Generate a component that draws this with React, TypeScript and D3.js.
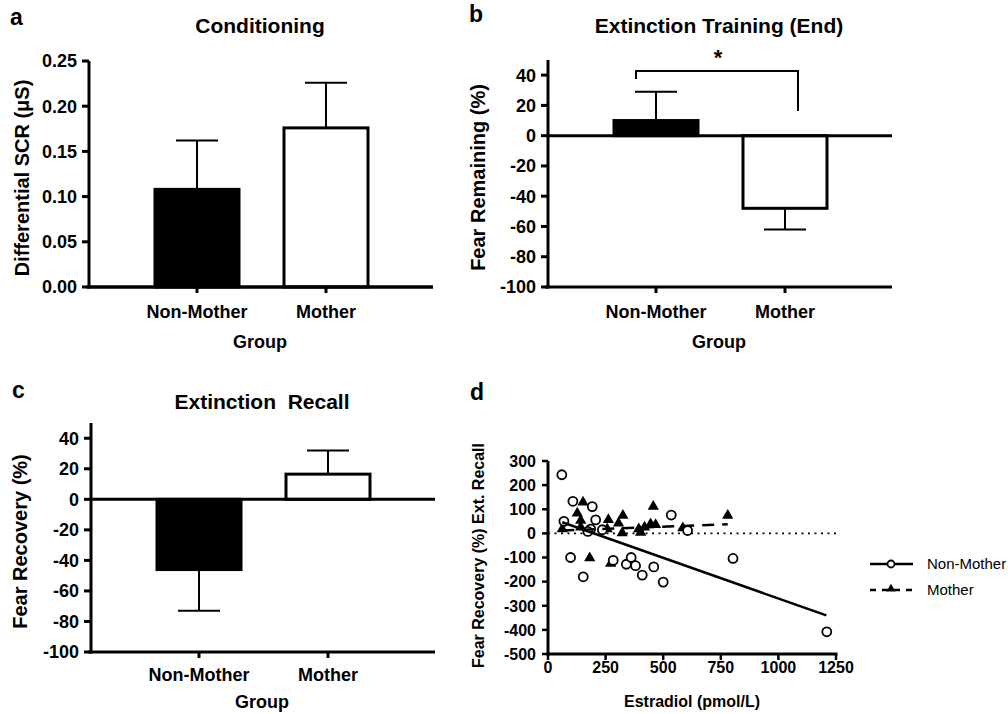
import * as d3 from 'd3'

// ---- data ----
const groups = ["Non-Mother", "Mother"];

// a: conditioning (differential SCR, µS)
const condMean = [0.108, 0.176];
const condErrEnd = [0.162, 0.226];
const condTicks = [0, 0.05, 0.1, 0.15, 0.2, 0.25];

// b: extinction training (end), fear remaining %
const extEndMean = [10, -48];
const extEndErrEnd = [29, -62];

// c: extinction recall, fear recovery %
const recallMean = [-46, 16.5];
const recallErrEnd = [-73, 32];

const pctTicks = [-100, -80, -60, -40, -20, 0, 20, 40];

// d: estradiol vs fear recovery
const nonMotherX = [60, 69, 108, 98, 153, 192, 185, 173, 207, 236, 283, 340, 361, 380, 409, 459, 500, 535, 606, 803, 1210];
const nonMotherY = [243, 50, 133, -100, -180, 111, 18, 8, 56, 15, -112, -128, -100, -134, -173, -139, -202, 76, 12, -104, -408];
const motherX = [62, 127, 142, 142, 152, 181, 257, 262, 272, 306, 325, 322, 394, 402, 419, 445, 457, 467, 585, 780];
const motherY = [18, 83, 53, 25, 129, -102, 18, 56, -125, 42, 74, 2, 18, 4, 25, 39, 111, 36, 22, 74];
const nonMotherFit = [[62, 46], [1208, -340]];
const motherFit = [[62, 12], [780, 38]];
const estTicks = [0, 250, 500, 750, 1000, 1250];
const recTicks = [-500, -400, -300, -200, -100, 0, 100, 200, 300];

const FONT = '"Liberation Sans", Arial, sans-serif';

const BarPanel = ({x0, yTop, yBottom, domain, ticks, fmt, means, errEnds, title, titleY, yLabel, labelX, catY, groupY, letter, letterY}) => {
    const width = 344;
    const y = d3.scaleLinear().domain(domain).range([yBottom, yTop]);
    const x = d3.scalePoint().domain(groups).range([x0 + 108, x0 + 237]);
    const barW = 84;
    const zero = y(0);
    const axisBottom = y(domain[0]);

    return (
        <g fontFamily={FONT} fontWeight="bold">
            <text x={x0 - 79} y={letterY} fontSize={23}>{letter}</text>
            <text x={x0 + 171} y={titleY} fontSize={21} textAnchor="middle">{title}</text>

            {/* bars */}
            {groups.map((g, i) => {
                const v = means[i];
                const top = Math.min(y(v), zero);
                const h = Math.abs(y(v) - zero);
                const cx = x(g);
                return (
                    <g key={g}>
                        <line x1={cx} x2={cx} y1={y(v)} y2={y(errEnds[i])} stroke="#000" strokeWidth={2} />
                        <line x1={cx - 21} x2={cx + 21} y1={y(errEnds[i])} y2={y(errEnds[i])} stroke="#000" strokeWidth={2} />
                        <rect x={cx - barW / 2} y={top} width={barW} height={h}
                              fill={i === 0 ? "#000" : "#fff"} stroke="#000" strokeWidth={3} />
                    </g>
                );
            })}

            {/* zero line */}
            <line x1={x0} x2={x0 + width} y1={zero} y2={zero} stroke="#000" strokeWidth={3} />
            {/* bottom axis */}
            <line x1={x0 - 3} x2={x0 + width} y1={axisBottom} y2={axisBottom} stroke="#000" strokeWidth={3} />
            {groups.map(g => (
                <g key={g}>
                    <line x1={x(g)} x2={x(g)} y1={axisBottom} y2={axisBottom + 6} stroke="#000" strokeWidth={3} />
                    <text x={x(g)} y={catY} fontSize={18} textAnchor="middle">{g}</text>
                </g>
            ))}
            <text x={x0 + 171} y={groupY} fontSize={18} textAnchor="middle">Group</text>

            {/* left axis */}
            <line x1={x0} x2={x0} y1={yTop} y2={axisBottom + 1.5} stroke="#000" strokeWidth={3} />
            {ticks.map(t => (
                <g key={t}>
                    <line x1={x0 - 7} x2={x0} y1={y(t)} y2={y(t)} stroke="#000" strokeWidth={3} />
                    <text x={x0 - 12} y={y(t)} dy="0.36em" fontSize={18} textAnchor="end">{fmt(t)}</text>
                </g>
            ))}
            <text transform={`translate(${labelX},${(yTop + axisBottom) / 2 + 4}) rotate(-90)`}
                  fontSize={20} textAnchor="middle" dy="0.35em">{yLabel}</text>
        </g>
    );
};

const ScatterPanel = () => {
    const x = d3.scaleLinear().domain([0, 1250]).range([548, 836]);
    const y = d3.scaleLinear().domain([-500, 300]).range([654, 461]);
    const tri = d3.symbol().type(d3.symbolTriangle).size(55)();
    const line = d3.line().x(d => x(d[0])).y(d => y(d[1]));

    return (
        <g fontFamily={FONT}>
            <text x={470} y={400} fontSize={23} fontWeight="bold">d</text>

            {/* dotted zero line */}
            <line x1={x(0)} x2={x(1250)} y1={y(0)} y2={y(0)} stroke="#000" strokeWidth={1.6} strokeDasharray="2,4.5" />

            {motherX.map((v, i) => (
                <path key={"m" + i} d={tri} transform={`translate(${x(v)},${y(motherY[i])})`} fill="#000" />
            ))}
            {nonMotherX.map((v, i) => (
                <circle key={"n" + i} cx={x(v)} cy={y(nonMotherY[i])} r={4.5} fill="#fff" stroke="#000" strokeWidth={1.8} />
            ))}

            <path d={line(nonMotherFit)} stroke="#000" strokeWidth={2.5} fill="none" />
            <path d={line(motherFit)} stroke="#000" strokeWidth={2.5} fill="none" strokeDasharray="12,8" />

            {/* axes */}
            <line x1={x(0)} x2={x(0)} y1={y(300)} y2={y(-500) + 1.5} stroke="#000" strokeWidth={3} />
            <line x1={x(0) - 1.5} x2={x(1250) + 1.5} y1={y(-500)} y2={y(-500)} stroke="#000" strokeWidth={3} />
            <g fontWeight="bold" fontSize={16}>
                {recTicks.map(t => (
                    <g key={t}>
                        <line x1={x(0) - 6} x2={x(0)} y1={y(t)} y2={y(t)} stroke="#000" strokeWidth={2.5} />
                        <text x={x(0) - 12} y={y(t)} dy="0.36em" textAnchor="end">{t}</text>
                    </g>
                ))}
                {estTicks.map(t => (
                    <g key={t}>
                        <line x1={x(t)} x2={x(t)} y1={y(-500)} y2={y(-500) + 6} stroke="#000" strokeWidth={2.5} />
                        <text x={x(t)} y={673} textAnchor="middle">{t}</text>
                    </g>
                ))}
                <text x={x(625)} y={707} textAnchor="middle">Estradiol (pmol/L)</text>
                <text transform={`translate(478,${(y(300) + y(-500)) / 2 - 2}) rotate(-90)`} textAnchor="middle" dy="0.35em">
                    Fear Recovery (%) Ext. Recall
                </text>
            </g>

            {/* legend */}
            <g fontSize={15}>
                <line x1={870} x2={913} y1={564} y2={564} stroke="#000" strokeWidth={2.5} />
                <circle cx={891} cy={564} r={3.5} fill="#fff" stroke="#000" strokeWidth={1.8} />
                <text x={927} y={569}>Non-Mother</text>
                <line x1={870} x2={915} y1={590} y2={590} stroke="#000" strokeWidth={2.5} strokeDasharray="6,6" />
                <path d={d3.symbol().type(d3.symbolTriangle).size(35)()} transform="translate(891,589)" fill="#000" />
                <text x={927} y={595}>Mother</text>
            </g>
        </g>
    );
};

export default function App() {
    return (
        <svg width={1008} height={714} style={{position: "absolute", left: 0, top: 0, background: "#fff"}}>
            <BarPanel x0={89} yTop={61} yBottom={287} domain={[0, 0.25]} ticks={condTicks}
                      fmt={d3.format(".2f")} means={condMean} errEnds={condErrEnd}
                      title="Conditioning" titleY={33} yLabel="Differential SCR (μS)" labelX={22}
                      catY={318} groupY={348} letter="a" letterY={25} />
            <BarPanel x0={548} yTop={60} yBottom={287} domain={[-100, 50]} ticks={pctTicks}
                      fmt={d => d} means={extEndMean} errEnds={extEndErrEnd}
                      title="Extinction Training (End)" titleY={33} yLabel="Fear Remaining (%)" labelX={478}
                      catY={318} groupY={348} letter="b" letterY={22} />
            <BarPanel x0={91} yTop={423} yBottom={652} domain={[-100, 50]} ticks={pctTicks}
                      fmt={d => d} means={recallMean} errEnds={recallErrEnd}
                      title={"Extinction\u00a0\u00a0Recall"} titleY={409} yLabel="Fear Recovery (%)" labelX={20}
                      catY={681} groupY={708} letter="c" letterY={398} />
            {/* significance bracket for b */}
            <g>
                <path d="M636,79 V71 H798 V111" stroke="#000" strokeWidth={2} fill="none" />
                <text x={718} y={65} fontFamily={FONT} fontWeight="bold" fontSize={22} textAnchor="middle">*</text>
            </g>
            <ScatterPanel />
        </svg>
    );
}
